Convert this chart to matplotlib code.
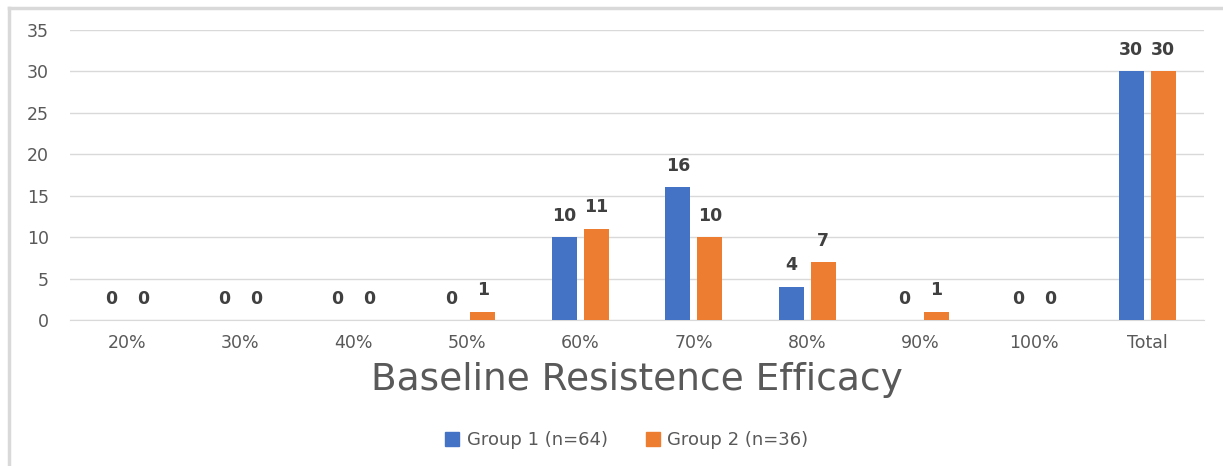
import matplotlib
matplotlib.use("Agg")
import matplotlib.pyplot as plt
import numpy as np
from matplotlib.lines import Line2D

categories = ["20%", "30%", "40%", "50%", "60%", "70%", "80%", "90%", "100%", "Total"]
group1 = [0, 0, 0, 0, 10, 16, 4, 0, 0, 30]
group2 = [0, 0, 0, 1, 11, 10, 7, 1, 0, 30]
series_names = ["Group 1 (n=64)", "Group 2 (n=36)"]
colors = ["#4472C4", "#ED7D31"]

W, H = 1223, 466
fig = plt.figure(figsize=(W / 100, H / 100), dpi=100)
ax = fig.add_axes([70 / W, 1 - 320 / H, (1204 - 70) / W, (320 - 30) / H])

x = np.arange(len(categories))
bw = 0.22
off = 0.141
for vals, c, name, sgn in [(group1, colors[0], series_names[0], -1), (group2, colors[1], series_names[1], 1)]:
    ax.bar(x + sgn * off, vals, width=bw, color=c, label=name, zorder=3)
    for xi, v in zip(x + sgn * off, vals):
        ax.annotate(str(v), (xi, v), xytext=(0, 9), textcoords="offset points",
                    ha="center", va="bottom", fontsize=12.5, color="#404040",
                    fontfamily="DejaVu Sans", fontweight="bold")

ax.set_xlim(-0.5, len(categories) - 0.5)
ax.set_ylim(0, 35)
ax.set_yticks(range(0, 36, 5))
ax.set_xticks(x)
ax.set_xticklabels(categories)
ax.grid(axis="y", color="#d9d9d9", linewidth=1, zorder=0)
for s in ["top", "right", "left"]:
    ax.spines[s].set_visible(False)
ax.spines["bottom"].set_color("#d9d9d9")
ax.tick_params(axis="both", length=0, colors="#595959", labelsize=12.5)
ax.tick_params(axis="y", pad=15)
ax.tick_params(axis="x", pad=10)
for lab in ax.get_xticklabels() + ax.get_yticklabels():
    lab.set_fontfamily("DejaVu Sans")

ax.set_xlabel("Baseline Resistence Efficacy", fontsize=27, color="#595959",
              fontfamily="DejaVu Sans", labelpad=7)

handles = [Line2D([], [], marker="s", linestyle="none", markersize=10,
                  markerfacecolor=c, markeredgecolor=c) for c in colors]
leg = fig.legend(handles, series_names, loc="center", bbox_to_anchor=(626 / W, 1 - 440 / H),
                 ncol=2, frameon=False, fontsize=13, labelcolor="#595959",
                 handletextpad=0.3, columnspacing=2.0, handlelength=1.0)
for t in leg.get_texts():
    t.set_fontfamily("DejaVu Sans")

# outer chart border (left and top only visible)
fig.add_artist(Line2D([9 / W, 9 / W], [0, 1 - 8 / H], transform=fig.transFigure,
                      color="#d9d9d9", linewidth=2.5))
fig.add_artist(Line2D([9 / W, 1], [1 - 8 / H, 1 - 8 / H], transform=fig.transFigure,
                      color="#d9d9d9", linewidth=2.5))

fig.savefig("out.png", dpi=100)
